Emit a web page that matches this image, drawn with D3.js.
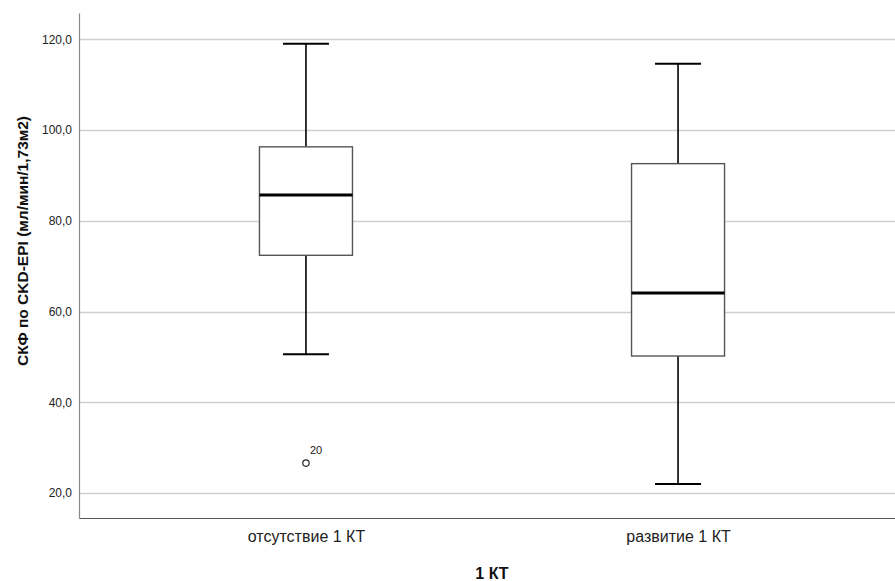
<!DOCTYPE html>
<html>
<head>
<meta charset="utf-8">
<script src="https://cdn.jsdelivr.net/npm/d3@7"></script>
<style>
  body { margin: 0; background: #fff; }
  text { font-family: Arial, "Liberation Sans", sans-serif; }
</style>
</head>
<body>
<div class="boxplot"></div>
<script>

// groups and five-number summaries
var categories = ["отсутствие 1 КТ", "развитие 1 КТ"];
var whiskerLow = [50.6, 22.0];
var q1Values = [72.4, 50.2];
var medianValues = [85.7, 64.1];
var q3Values = [96.3, 92.6];
var whiskerHigh = [119.0, 114.6];
var outliers = [{ group: "отсутствие 1 КТ", value: 26.6, label: "20" }];
var yTicks = [20, 40, 60, 80, 100, 120];

var margin = {top: 13, right: 0, bottom: 63, left: 79},
  width = 895 - margin.left - margin.right,
  height = 581 - margin.top - margin.bottom;

var svg = d3.select(".boxplot")
  .append("svg")
    .attr("width", width + margin.left + margin.right)
    .attr("height", height + margin.top + margin.bottom)
  .append("g")
    .attr("transform", "translate(" + margin.left + "," + margin.top + ")");

var boxes = categories.map(function(c, i) {
  return {
    name: c,
    low: whiskerLow[i],
    q1: q1Values[i],
    median: medianValues[i],
    q3: q3Values[i],
    high: whiskerHigh[i]
  };
});

// y scale
var y = d3.scaleLinear()
  .domain([14.5, 125.8])
  .range([height, 0]);

// x scale: point centres for each group
var x = d3.scalePoint()
  .domain(categories)
  .range([0, width + 10])
  .padding(0.61);

var boxWidth = 93;
var capWidth = 46;

// gridlines
svg.append("g")
  .selectAll("line")
  .data(yTicks)
  .enter()
  .append("line")
    .attr("x1", 0)
    .attr("x2", width)
    .attr("y1", function(d) { return Math.round(y(d)) + 0.5; })
    .attr("y2", function(d) { return Math.round(y(d)) + 0.5; })
    .style("stroke", "#cfcfcf")
    .style("stroke-width", 1.6);

// y axis
var yAxis = svg.append("g")
  .call(d3.axisLeft(y)
    .tickValues(yTicks)
    .tickSize(0)
    .tickPadding(7)
    .tickFormat(function(d) { return d3.format(".1f")(d).replace(".", ","); }));
yAxis.select(".domain").style("stroke", "#888").style("stroke-width", 1.2);
yAxis.selectAll("text")
  .style("font-size", "12px")
  .style("fill", "#222");

// x axis
var xAxis = svg.append("g")
  .attr("transform", "translate(0," + height + ")")
  .call(d3.axisBottom(x).tickSize(0).tickPadding(13));
xAxis.select(".domain").style("stroke", "#555").style("stroke-width", 1.2);
xAxis.selectAll("text")
  .style("font-size", "16px")
  .style("fill", "#222");

// whiskers
var g = svg.selectAll(".box")
  .data(boxes)
  .enter()
  .append("g")
    .attr("class", "box");

g.append("line")
  .attr("x1", function(d) { return x(d.name); })
  .attr("x2", function(d) { return x(d.name); })
  .attr("y1", function(d) { return y(d.high); })
  .attr("y2", function(d) { return y(d.q3); })
  .style("stroke", "#000")
  .style("stroke-width", 1.6);

g.append("line")
  .attr("x1", function(d) { return x(d.name); })
  .attr("x2", function(d) { return x(d.name); })
  .attr("y1", function(d) { return y(d.q1); })
  .attr("y2", function(d) { return y(d.low); })
  .style("stroke", "#000")
  .style("stroke-width", 1.6);

// caps
g.append("line")
  .attr("x1", function(d) { return x(d.name) - capWidth / 2; })
  .attr("x2", function(d) { return x(d.name) + capWidth / 2; })
  .attr("y1", function(d) { return y(d.high); })
  .attr("y2", function(d) { return y(d.high); })
  .style("stroke", "#000")
  .style("stroke-width", 2);

g.append("line")
  .attr("x1", function(d) { return x(d.name) - capWidth / 2; })
  .attr("x2", function(d) { return x(d.name) + capWidth / 2; })
  .attr("y1", function(d) { return y(d.low); })
  .attr("y2", function(d) { return y(d.low); })
  .style("stroke", "#000")
  .style("stroke-width", 2);

// box
g.append("rect")
  .attr("x", function(d) { return x(d.name) - boxWidth / 2; })
  .attr("y", function(d) { return y(d.q3); })
  .attr("width", boxWidth)
  .attr("height", function(d) { return y(d.q1) - y(d.q3); })
  .style("fill", "#fff")
  .style("stroke", "#555")
  .style("stroke-width", 1.4);

// median
g.append("line")
  .attr("x1", function(d) { return x(d.name) - boxWidth / 2; })
  .attr("x2", function(d) { return x(d.name) + boxWidth / 2; })
  .attr("y1", function(d) { return y(d.median); })
  .attr("y2", function(d) { return y(d.median); })
  .style("stroke", "#000")
  .style("stroke-width", 3);

// outliers
svg.selectAll(".outlier")
  .data(outliers)
  .enter()
  .append("circle")
    .attr("class", "outlier")
    .attr("cx", function(d) { return x(d.group); })
    .attr("cy", function(d) { return y(d.value); })
    .attr("r", 3.2)
    .style("fill", "none")
    .style("stroke", "#222")
    .style("stroke-width", 1.2);

svg.selectAll(".outlier-label")
  .data(outliers)
  .enter()
  .append("text")
    .attr("x", function(d) { return x(d.group) + 4; })
    .attr("y", function(d) { return y(d.value) - 9; })
    .style("font-size", "11px")
    .style("fill", "#222")
    .text(function(d) { return d.label; });

// axis titles
svg.append("text")
  .attr("x", width / 2 + 5)
  .attr("y", height + 61)
  .attr("text-anchor", "middle")
  .style("font-size", "16px")
  .style("font-weight", "bold")
  .style("fill", "#111")
  .text("1 КТ");

svg.append("text")
  .attr("transform", "translate(" + (-51) + "," + 228 + ") rotate(-90)")
  .attr("text-anchor", "middle")
  .style("font-size", "15.5px")
  .style("font-weight", "bold")
  .style("fill", "#111")
  .text("СКФ по CKD-EPI (мл/мин/1,73м2)");

</script>
</body>
</html>
